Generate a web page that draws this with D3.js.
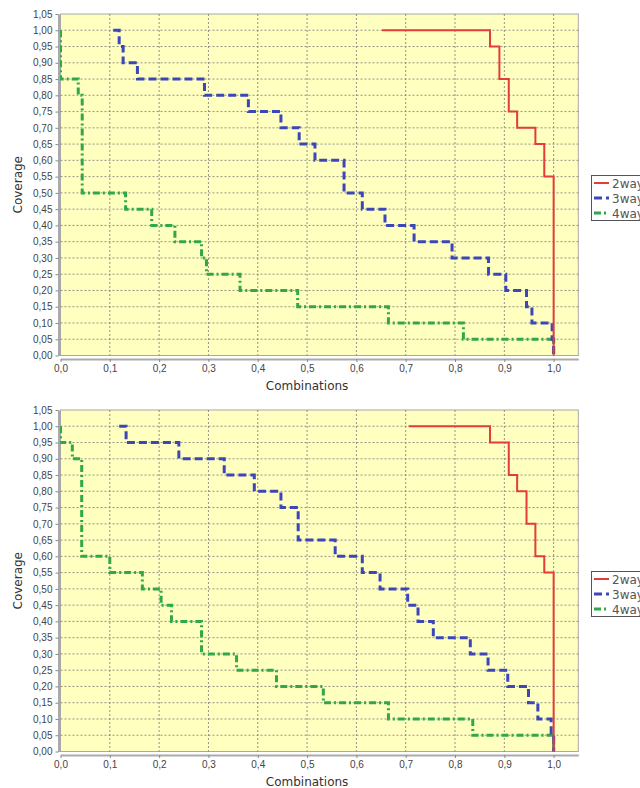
<!DOCTYPE html>
<html>
<meta charset="UTF-8">
<title>Coverage</title>
<style>
body { margin: 0; background: #fff; }
svg { font-family: "DejaVu Sans", sans-serif; }
</style>
<body>
<svg width="640" height="788"></svg>
<script src="https://d3js.org/d3.v7.min.js"></script>
<script>
// series names and styles
var seriesNames = ["2way", "3way", "4way"];

// top chart: [combinations, coverage] step points
var top2way = [[0.652,1.00],[0.871,0.95],[0.890,0.85],[0.909,0.75],[0.926,0.70],[0.963,0.65],[0.981,0.55],[1.0,0.0]];
var top3way = [[0.107,1.00],[0.119,0.95],[0.127,0.90],[0.156,0.85],[0.292,0.80],[0.381,0.75],[0.447,0.70],[0.484,0.65],
               [0.516,0.60],[0.575,0.50],[0.612,0.45],[0.658,0.40],[0.717,0.35],[0.794,0.30],[0.868,0.25],[0.903,0.20],
               [0.945,0.15],[0.956,0.10],[0.997,0.05],[1.0,0.0]];
var top4way = [[0,1.00],[0,0.85],[0.036,0.80],[0.044,0.50],[0.132,0.45],[0.185,0.40],[0.232,0.35],[0.286,0.30],
               [0.296,0.25],[0.364,0.20],[0.481,0.15],[0.665,0.10],[0.817,0.05],[1.0,0.0]];

// bottom chart
var bot2way = [[0.706,1.00],[0.871,0.95],[0.909,0.85],[0.926,0.80],[0.945,0.70],[0.963,0.60],[0.981,0.55],[1.0,0.0]];
var bot3way = [[0.119,1.00],[0.133,0.95],[0.240,0.90],[0.332,0.85],[0.393,0.80],[0.447,0.75],[0.482,0.65],[0.557,0.60],
               [0.612,0.55],[0.648,0.50],[0.704,0.45],[0.725,0.40],[0.756,0.35],[0.831,0.30],[0.867,0.25],[0.907,0.20],
               [0.949,0.15],[0.968,0.10],[0.995,0.05],[1.0,0.0]];
var bot4way = [[0,1.00],[0,0.95],[0.024,0.90],[0.043,0.60],[0.100,0.55],[0.166,0.50],[0.204,0.45],[0.225,0.40],
               [0.286,0.30],[0.357,0.25],[0.438,0.20],[0.533,0.15],[0.665,0.10],[0.836,0.05],[1.0,0.0]];

var xTicks = [0,0.1,0.2,0.3,0.4,0.5,0.6,0.7,0.8,0.9,1.0];
var yTicks = d3.range(0, 22).map(function(i) { return i * 0.05; });

var colors = ["#e23c3c", "#3b47b8", "#30a848"];
var dashes = [null, "8,4", "7,3,2,3"];
var widths = [2, 3, 3];

var comma = function(f) { return function(v) { return d3.format(f)(v).replace(".", ","); }; };

var svg = d3.select("svg");

function drawChart(top, series) {
  var x0 = 60.5, w = 517.8, h = 341.5;
  var x = d3.scaleLinear().domain([0, 1.05]).range([x0, x0 + w]);
  var y = d3.scaleLinear().domain([0, 1.05]).range([top + h, top]);
  var g = svg.append("g");

  // plot background
  g.append("rect").attr("x", x0).attr("y", top).attr("width", w).attr("height", h)
    .attr("fill", "#ffffc0").attr("stroke", "#a8a8a8").attr("stroke-width", 1);

  // grid
  g.selectAll(".gx").data(xTicks.slice(1)).enter().append("line")
    .attr("x1", function(d) { return x(d); }).attr("x2", function(d) { return x(d); })
    .attr("y1", top).attr("y2", top + h)
    .attr("stroke", "#777").attr("stroke-width", 0.8).attr("stroke-dasharray", "2,2");
  g.selectAll(".gy").data(yTicks.slice(1, 21)).enter().append("line")
    .attr("y1", function(d) { return y(d); }).attr("y2", function(d) { return y(d); })
    .attr("x1", x0).attr("x2", x0 + w)
    .attr("stroke", "#777").attr("stroke-width", 0.8).attr("stroke-dasharray", "2,2");

  // series, drawn in reverse so 2way is on top
  var line = d3.line().x(function(d) { return x(d[0]); }).y(function(d) { return y(d[1]); })
    .curve(d3.curveStepAfter);
  for (var i = series.length - 1; i >= 0; i--) {
    g.append("path").datum(series[i]).attr("d", line)
      .attr("fill", "none").attr("stroke", colors[i]).attr("stroke-width", widths[i])
      .attr("stroke-dasharray", dashes[i]);
  }

  // axes
  var xAxis = g.append("g").attr("transform", "translate(0," + (top + h + 3.5) + ")")
    .call(d3.axisBottom(x).tickValues(xTicks).tickFormat(comma(".1f")).tickSizeInner(3).tickSizeOuter(0).tickPadding(3));
  var yAxis = g.append("g").attr("transform", "translate(" + (x0 - 2) + ",0)")
    .call(d3.axisLeft(y).tickValues(yTicks).tickFormat(comma(".2f")).tickSizeInner(3).tickSizeOuter(0).tickPadding(3));
  [xAxis, yAxis].forEach(function(a) {
    a.select(".domain").attr("stroke", "#aaa").attr("stroke-width", 2);
    a.selectAll(".tick line").attr("stroke", "#888");
    a.selectAll("text").attr("fill", "#444").style("font-size", "10px");
  });

  g.append("text").attr("x", x(0.5)).attr("y", top + h + 34)
    .attr("text-anchor", "middle").attr("fill", "#333").style("font-size", "12px").text("Combinations");
  g.append("text").attr("transform", "translate(22," + (top + h / 2) + ") rotate(-90)")
    .attr("text-anchor", "middle").attr("fill", "#333").style("font-size", "12px").text("Coverage");

  // legend
  var ly = top + 161;
  g.append("rect").attr("x", 591.5).attr("y", ly + 0.5).attr("width", 80).attr("height", 45)
    .attr("fill", "#fff").attr("stroke", "#555");
  seriesNames.forEach(function(name, i) {
    var yy = ly + 8 + i * 15;
    g.append("line").attr("x1", 594).attr("x2", 609).attr("y1", yy).attr("y2", yy)
      .attr("stroke", colors[i]).attr("stroke-width", widths[i]).attr("stroke-dasharray", dashes[i]);
    g.append("text").attr("x", 612).attr("y", yy + 4.5).attr("fill", "#555")
      .style("font-size", "12px").text(name);
  });
}

drawChart(14, [top2way, top3way, top4way]);
drawChart(410, [bot2way, bot3way, bot4way]);
</script>
</body>
</html>
